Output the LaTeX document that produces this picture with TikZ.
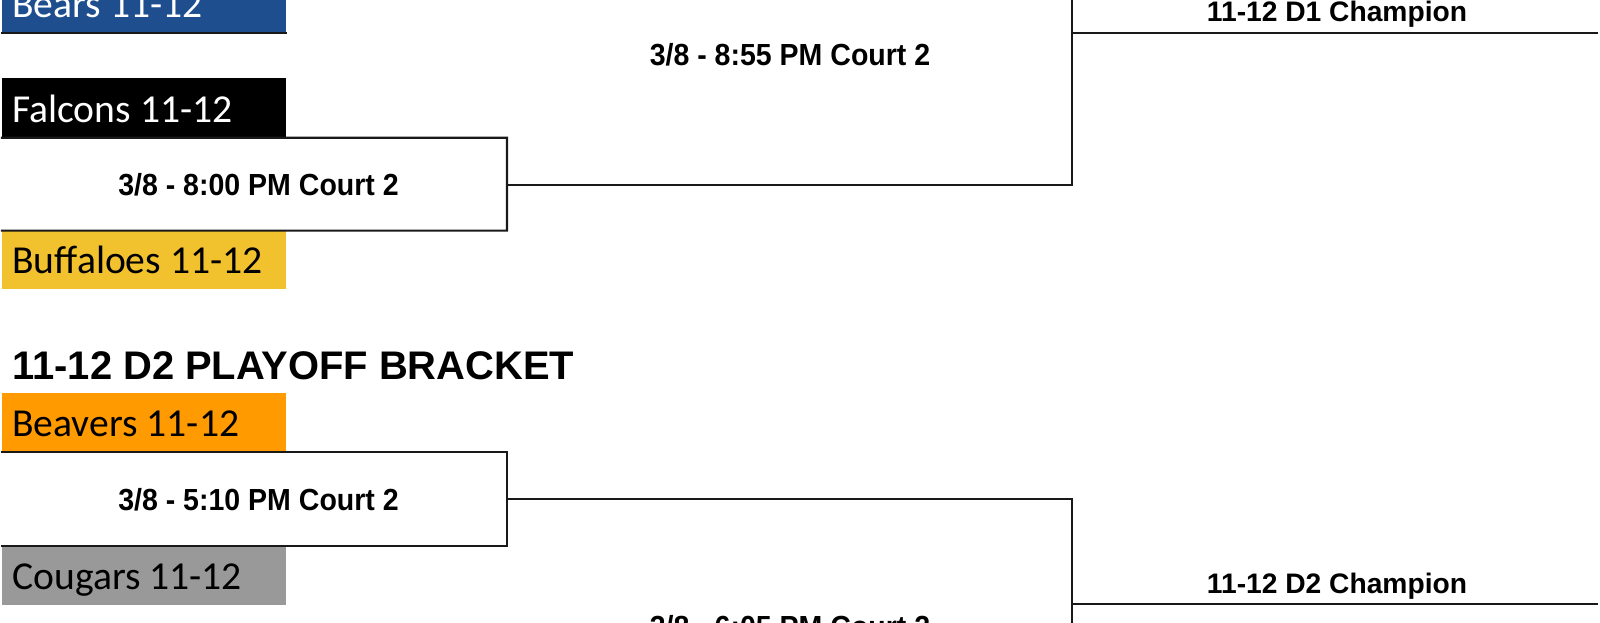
\documentclass[tikz,border=0pt]{standalone}
\usepackage{fontspec}
\newfontfamily\teamfont{Carlito}
\newfontfamily\labfont{Liberation Sans}
\newfontfamily\labfontn[FakeStretch=0.935]{Liberation Sans}
\definecolor{bearblue}{RGB}{31,78,143}
\definecolor{buffyellow}{RGB}{242,193,46}
\definecolor{beavorange}{RGB}{255,154,0}
\definecolor{cougargray}{RGB}{153,153,153}
\begin{document}
\begin{tikzpicture}[x=1pt,y=-1pt,
  teambox/.style={draw=none, inner sep=0pt, outer sep=0pt, minimum width=283.7pt, anchor=south west},
  teamtext/.style={anchor=base west, inner sep=0pt, font=\teamfont\fontsize{39.6}{40}\selectfont},
  matchtext/.style={anchor=base, inner sep=0pt, font=\labfontn\bfseries\fontsize{30.5}{31}\selectfont},
  champtext/.style={anchor=base, inner sep=0pt, font=\labfont\bfseries\fontsize{28.2}{29}\selectfont},
  headtext/.style={anchor=base west, inner sep=0pt, font=\labfont\bfseries\fontsize{39.9}{40}\selectfont},
  bline/.style={line width=2.1pt, draw=black!90, line cap=rect}]
\useasboundingbox (0,0) rectangle (1600,623);
\clip (0,0) rectangle (1600,623);
\fill[white] (0,0) rectangle (1600,623);

% team boxes
\node[teambox, fill=bearblue, minimum height=60pt] (bears) at (2,32.7) {};
\node[teambox, fill=black, minimum height=60.2pt] (falcons) at (2,137.8) {};
\node[teambox, fill=buffyellow, minimum height=58.2pt] (buffaloes) at (2,288.8) {};
\node[teambox, fill=beavorange, minimum height=59.1pt] (beavers) at (2,452) {};
\node[teambox, fill=cougargray, minimum height=59pt] (cougars) at (2,605) {};

% team names
\node[teamtext, text=white] (tbears) at (12.2,17.4) {Bears 11-12};
\node[teamtext, text=white] (tfalcons) at (12.2,122.5) {Falcons 11-12};
\node[teamtext, text=black] (tbuffaloes) at (12.2,273.5) {Buffaloes 11-12};
\node[teamtext, text=black] (tbeavers) at (12.2,436.7) {Beavers 11-12};
\node[teamtext, text=black] (tcougars) at (12.2,589.7) {Cougars 11-12};

% heading
\node[headtext] (head) at (12.2,379.6) {11-12 D2 PLAYOFF BRACKET};

% coordinates
\coordinate (m1tr) at (507,137.8);
\coordinate (m1br) at (507,230.6);
\coordinate (m1mid) at (507,184.7);
\coordinate (j1) at (1072.4,184.7);
\coordinate (j1top) at (1072.4,-130);
\coordinate (c1l) at (1072.4,32.7);
\coordinate (c1r) at (1597,32.7);

\coordinate (m2tr) at (507,452);
\coordinate (m2br) at (507,546);
\coordinate (m2mid) at (507,499);
\coordinate (j2) at (1072.4,499);
\coordinate (j2bot) at (1072.4,760);
\coordinate (c2l) at (1072.4,604);
\coordinate (c2r) at (1597,604);

% bracket lines D1
\draw[bline] (bears.south west) -- (bears.south east);
\draw[bline] (falcons.south west) -- (m1tr) -- (m1br) -- (buffaloes.north west);
\draw[bline] (m1mid) -- (j1);
\draw[bline] (j1top) -- (j1);
\draw[bline] (c1l) -- (c1r);

% bracket lines D2
\draw[bline] (beavers.south west) -- (m2tr) -- (m2br) -- (cougars.north west);
\draw[bline] (m2mid) -- (j2);
\draw[bline] (j2) -- (j2bot);
\draw[bline] (c2l) -- (c2r);

% match labels
\node[matchtext] (g1) at (258.5,195.9) {3/8 - 8:00 PM Court 2};
\node[matchtext] (g2) at (790,65.3) {3/8 - 8:55 PM Court 2};
\node[matchtext] (g3) at (258.5,510.2) {3/8 - 5:10 PM Court 2};
\node[matchtext] (g4) at (790,637.5) {3/8 - 6:05 PM Court 2};

% champion labels
\node[champtext] (ch1) at (1337,21.7) {11-12 D1 Champion};
\node[champtext] (ch2) at (1337,593) {11-12 D2 Champion};
\end{tikzpicture}
\end{document}
